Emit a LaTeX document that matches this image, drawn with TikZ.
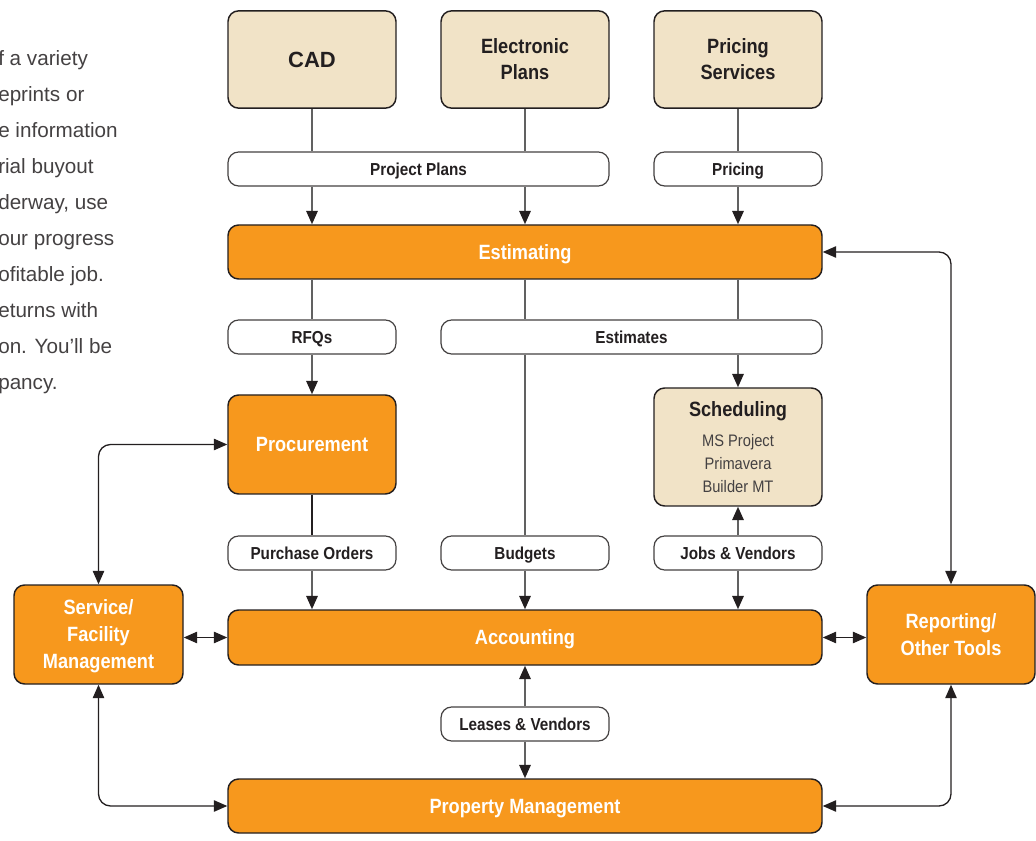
\documentclass[tikz,border=0pt]{standalone}
\usepackage{fontspec}
\setmainfont{Liberation Sans}
\newfontfamily\condfont[FakeStretch=0.88]{Liberation Sans}
\usetikzlibrary{arrows.meta, positioning, calc}
\definecolor{sandtan}{HTML}{F1E3C7}
\definecolor{amber}{HTML}{F7981D}
\definecolor{ink}{HTML}{231F20}
\newcommand{\toolfont}{\mdseries\color{ink!85}\fontsize{12.5}{17.25}\selectfont}

\begin{document}
\begin{tikzpicture}[x=0.75pt, y=-0.75pt,
    >={Triangle[length=10pt, width=8.5pt, color=ink]},
    box/.style={draw=ink, line width=1.1pt, rounded corners=8pt, minimum width=126pt,
        inner sep=2pt, text depth=0pt, align=center, font=\condfont\bfseries\fontsize{15.5}{19.5}\selectfont},
    source/.style={box, fill=sandtan, text=ink, minimum height=73pt},
    module/.style={box, fill=amber, text=white, font=\condfont\bfseries\fontsize{15.5}{20.25}\selectfont},
    flow/.style={draw=ink!85, fill=white, line width=0.9pt, rounded corners=8pt, minimum width=126pt,
        minimum height=25.5pt, inner sep=1pt, text depth=0pt, text=ink, font=\condfont\bfseries\fontsize{13}{15}\selectfont},
    trunk/.style={draw=black!62, line width=1.5pt},
    link/.style={draw=ink, line width=1pt, <->, rounded corners=9pt},
    intro/.style={text=ink!85, font=\fontsize{15.5}{18}\selectfont, inner sep=0pt}]
\useasboundingbox (0,0) rectangle (1036,841);

% cut-off paragraph on the left
\foreach \phrase [count=\i] in {f a variety, eprints or, e information, rial buyout, {derway, use},
    our progress, ofitable job., eturns with, {on. You’ll be}, pancy.}
{
    \node[intro, anchor=base west] (intro\i) at (-2, {29+36.1*\i}) {\phrase};
}

% sources
\node[source, font=\bfseries\fontsize{16.5}{19.5}\selectfont] (cad) at (312,59.5) {CAD};
\node[source] (eplans) at (525,59.5) {Electronic\\Plans};
\node[source] (pricesvc) at (738,59.5) {Pricing\\Services};
\node[flow, minimum width=285.75pt] (projplans) at (418.5,169) {Project Plans};
\node[flow] (pricing) at (738,169) {Pricing};

% modules
\node[module, minimum width=445.5pt, minimum height=40.5pt] (estimating) at (525,252) {Estimating};
\node[flow] (rfqs) at (312,337) {RFQs};
\node[flow, minimum width=285.75pt] (estimates) at (631.5,337) {Estimates};
\node[module, minimum height=74.25pt] (procurement) at (312,444.5) {Procurement};
\node[source, minimum height=88.5pt, text depth=-2.5pt] (scheduling) at (738,447)
    {Scheduling\\[3.5pt]\toolfont MS Project\\[-2.25pt]\toolfont Primavera\\[-2.25pt]\toolfont Builder MT};
\node[flow] (purchase) at (312,553) {Purchase Orders};
\node[flow] (budgets) at (525,553) {Budgets};
\node[flow] (jobs) at (738,553) {Jobs \& Vendors};
\node[module, minimum width=445.5pt, minimum height=41.25pt] (accounting) at (525,637.5) {Accounting};
\node[module, minimum width=126.75pt, minimum height=74.25pt] (service) at (98.5,634.5) {Service/\\Facility\\Management};
\node[module, minimum height=74.25pt] (reporting) at (951,634.5) {Reporting/\\Other Tools};
\node[flow] (leases) at (525,724) {Leases \& Vendors};
\node[module, minimum width=445.5pt, minimum height=40.5pt] (propmgmt) at (525,806) {Property Management};

% data flowing down
\foreach \src in {cad, eplans}
{
    \draw[trunk] (\src) -- (\src |- projplans.north);
    \draw[trunk, ->] (\src |- projplans.south) -- (\src |- estimating.north);
}
\draw[trunk] (pricesvc) -- (pricing);
\draw[trunk, ->] (pricing) -- (pricing |- estimating.north);
\draw[trunk] (estimating.south -| rfqs) -- (rfqs);
\draw[trunk, ->] (rfqs) -- (procurement);
\draw[trunk] (estimating.south -| budgets) -- (estimates.north -| budgets);
\draw[trunk] (estimating.south -| scheduling) -- (estimates.north -| scheduling);
\draw[trunk] (estimates.south -| budgets) -- (budgets);
\draw[trunk, ->] (estimates.south -| scheduling) -- (scheduling);
\draw[trunk, draw=ink] (procurement) -- (purchase);
\draw[trunk, ->] (purchase) -- (purchase |- accounting.north);
\draw[trunk, ->] (budgets) -- (budgets |- accounting.north);
\draw[trunk, ->] (jobs) -- (scheduling);
\draw[trunk, ->] (jobs) -- (jobs |- accounting.north);
\draw[trunk, ->] (leases) -- (leases |- accounting.south);
\draw[trunk, ->] (leases) -- (leases |- propmgmt.north);

% two-way links
\draw[link] (service.east |- accounting) -- (accounting.west);
\draw[link] (accounting.east) -- (reporting.west |- accounting);
\draw[link] (service.north) |- (procurement.west);
\draw[link] (service.south) |- (propmgmt.west);
\draw[link] (estimating.east) -| (reporting.north);
\draw[link] (propmgmt.east) -| (reporting.south);
\end{tikzpicture}
\end{document}
